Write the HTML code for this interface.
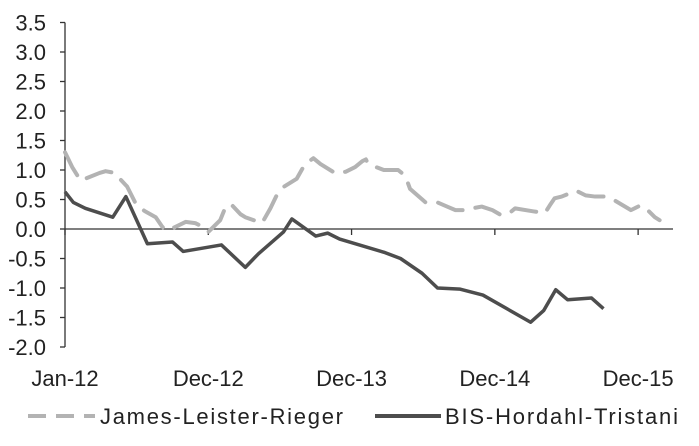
<!DOCTYPE html>
<html><head><meta charset="utf-8"><style>
body{margin:0;background:#fff;}
svg text{font-family:"Liberation Sans",Arial,sans-serif;fill:#222;}
</style></head><body>
<svg width="699" height="441" viewBox="0 0 699 441">
<g id="axes"></g>
<g id="series"></g>
<g id="legend"></g>
</svg>
<script>
// months since Jan-12 (category position), values in %
const xTickLabels = ["Jan-12","Dec-12","Dec-13","Dec-14","Dec-15"];
const xTickPos = [0,12,24,36,48];
const yTicks = [3.5,3.0,2.5,2.0,1.5,1.0,0.5,0.0,-0.5,-1.0,-1.5,-2.0];
const grayT = [0,0.6,1.3,2.9,3.4,4.2,4.6,5.2,6.0,6.7,7.6,8.1,8.4,9.2,10.1,10.9,11.7,12.0,13.0,13.5,14.0,14.7,15.1,16.5,17.2,17.8,18.2,19.4,20.1,20.8,21.4,22.6,23.5,24.3,24.9,25.2,25.4,26.7,27.9,28.5,28.9,30.2,31.2,32.0,32.7,33.3,34.9,35.8,36.4,37.1,37.7,39.2,40.2,40.6,41.0,41.6,42.8,43.6,44.4,45.2,45.9,47.4,48.2,48.8,49.4,49.8];
const grayV = [1.3,1.05,0.82,0.95,0.98,0.95,0.85,0.72,0.4,0.3,0.2,0.05,-0.02,0.03,0.12,0.1,0.02,-0.05,0.15,0.4,0.4,0.25,0.2,0.1,0.35,0.6,0.7,0.85,1.1,1.2,1.1,0.95,0.97,1.05,1.15,1.18,1.1,1.0,1.0,0.9,0.68,0.45,0.45,0.38,0.32,0.32,0.38,0.32,0.25,0.25,0.35,0.3,0.27,0.4,0.52,0.55,0.65,0.57,0.55,0.55,0.5,0.32,0.4,0.32,0.2,0.15];
const darkT = [0,0.7,1.7,4.0,5.1,6.9,9.0,9.9,13.1,15.1,16.2,18.3,19.0,21.0,22.0,23.0,26.8,28.1,29.9,31.2,33.1,35.0,39.0,40.1,41.1,42.1,44.1,45.1];
const darkV = [0.63,0.45,0.35,0.2,0.55,-0.25,-0.22,-0.38,-0.27,-0.65,-0.42,-0.05,0.17,-0.12,-0.07,-0.17,-0.4,-0.5,-0.75,-1.0,-1.02,-1.12,-1.58,-1.38,-1.03,-1.2,-1.17,-1.35];

const X0=65, PXM=11.94, Y0=229, PXU=59;
const xs=t=>X0+t*PXM, ys=v=>Y0-v*PXU;
const NS="http://www.w3.org/2000/svg";
function mk(tag,attrs,parent){const e=document.createElementNS(NS,tag);for(const k in attrs)e.setAttribute(k,attrs[k]);parent.appendChild(e);return e;}
const axes=document.getElementById('axes');
let yl=mk('line',{x1:X0,y1:ys(3.5),x2:X0,y2:ys(-2),stroke:'#333','stroke-width':1.3},axes);


let xl=mk('line',{x1:X0,y1:Y0,x2:673,y2:Y0,stroke:'#333','stroke-width':1.3},axes);


yTicks.forEach(v=>{
  mk('line',{x1:X0-5,y1:ys(v),x2:X0,y2:ys(v),stroke:'#333','stroke-width':1.3},axes);
  const t=mk('text',{x:46,y:ys(v)+8,'text-anchor':'end','font-size':22},axes);
  t.textContent=v.toFixed(1);
  
  
});
xTickLabels.forEach((l,i)=>{
  const x=xs(xTickPos[i]);
  mk('line',{x1:x,y1:Y0,x2:x,y2:Y0+6,stroke:'#333','stroke-width':1.3},axes);
  const t=mk('text',{x:x,y:386,'text-anchor':'middle','font-size':22},axes);
  t.textContent=l;
  
  
});
const ser=document.getElementById('series');
let gp=mk('polyline',{points:grayT.map((t,i)=>xs(t)+','+ys(grayV[i])).join(' '),fill:'none',stroke:'#b3b3b3','stroke-width':4,'stroke-dasharray':'26 13','stroke-linecap':'round','stroke-linejoin':'round'},ser);


let dp=mk('polyline',{points:darkT.map((t,i)=>xs(t)+','+ys(darkV[i])).join(' '),fill:'none',stroke:'#4d4d4d','stroke-width':3.5,'stroke-linejoin':'round'},ser);


const lg=document.getElementById('legend');
let l1=mk('line',{x1:28,y1:416,x2:95,y2:416,stroke:'#b3b3b3','stroke-width':4,'stroke-dasharray':'18 10'},lg);


let t1=mk('text',{x:100,y:424,'font-size':22,textLength:243},lg);t1.textContent='James-Leister-Rieger';


let l2=mk('line',{x1:375,y1:416,x2:441,y2:416,stroke:'#4d4d4d','stroke-width':4},lg);


let t2=mk('text',{x:445,y:424,'font-size':22,textLength:233},lg);t2.textContent='BIS-Hordahl-Tristani';


</script>
</body></html>
